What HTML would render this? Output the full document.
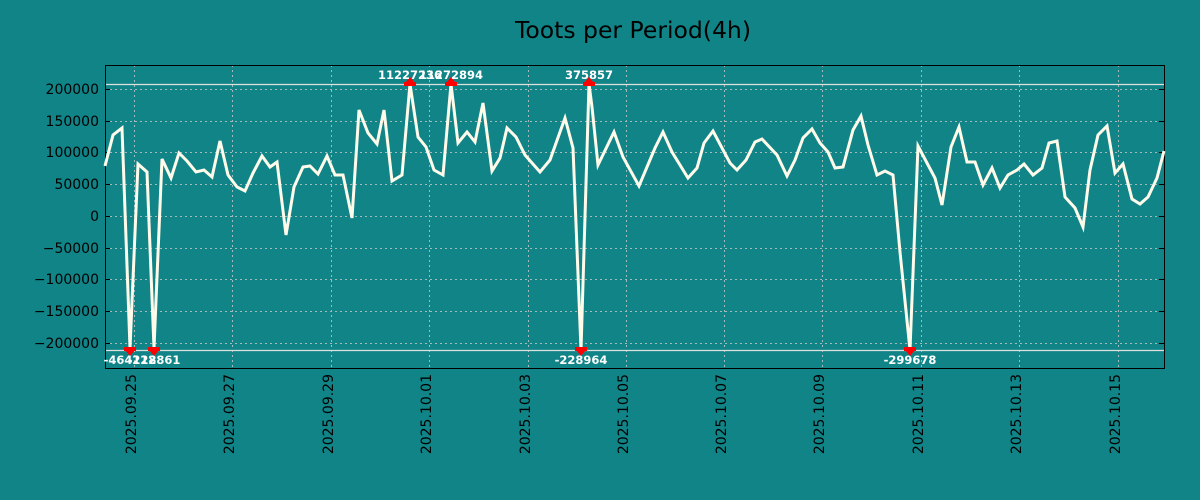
<!DOCTYPE html>
<html><head><meta charset="utf-8"><style>
body{margin:0;background:#118487;}
svg{display:block;font-family:"DejaVu Sans","Liberation Sans",sans-serif;}
</style></head><body>
<svg width="1200" height="500" xmlns="http://www.w3.org/2000/svg">
<rect width="1200" height="500" fill="#118487"/>
<text x="633" y="38" font-size="23.5" text-anchor="middle" fill="#000">Toots per Period(4h)</text>
<g stroke="#c8c8c8" stroke-width="1" stroke-dasharray="2,3" opacity="0.8">
<line x1="105" x2="1164" y1="89.5" y2="89.5"/><line x1="105" x2="1164" y1="121.5" y2="121.5"/>
<line x1="105" x2="1164" y1="152.5" y2="152.5"/><line x1="105" x2="1164" y1="184.5" y2="184.5"/>
<line x1="105" x2="1164" y1="216.5" y2="216.5"/><line x1="105" x2="1164" y1="248.5" y2="248.5"/>
<line x1="105" x2="1164" y1="279.5" y2="279.5"/><line x1="105" x2="1164" y1="311.5" y2="311.5"/>
<line x1="105" x2="1164" y1="343.5" y2="343.5"/>
<line y1="65" y2="368" x1="134.5" x2="134.5"/><line y1="65" y2="368" x1="232.5" x2="232.5"/>
<line y1="65" y2="368" x1="331.5" x2="331.5"/><line y1="65" y2="368" x1="429.5" x2="429.5"/>
<line y1="65" y2="368" x1="528.5" x2="528.5"/><line y1="65" y2="368" x1="626.5" x2="626.5"/>
<line y1="65" y2="368" x1="724.5" x2="724.5"/><line y1="65" y2="368" x1="822.5" x2="822.5"/>
<line y1="65" y2="368" x1="921.5" x2="921.5"/><line y1="65" y2="368" x1="1019.5" x2="1019.5"/>
<line y1="65" y2="368" x1="1118.5" x2="1118.5"/>
</g>
<line x1="105" x2="1164" y1="84.5" y2="84.5" stroke="#e0e0e0" stroke-width="1.2"/>
<line x1="105" x2="1164" y1="350.5" y2="350.5" stroke="#e0e0e0" stroke-width="1.2"/>
<rect x="105.5" y="65.5" width="1059" height="303" fill="none" stroke="#000" stroke-width="1"/>
<g stroke="#000" stroke-width="1">
<line x1="105" x2="110" y1="89.5" y2="89.5"/><line x1="105" x2="110" y1="121.5" y2="121.5"/><line x1="105" x2="110" y1="152.5" y2="152.5"/><line x1="105" x2="110" y1="184.5" y2="184.5"/><line x1="105" x2="110" y1="216.5" y2="216.5"/><line x1="105" x2="110" y1="248.5" y2="248.5"/><line x1="105" x2="110" y1="279.5" y2="279.5"/><line x1="105" x2="110" y1="311.5" y2="311.5"/><line x1="105" x2="110" y1="343.5" y2="343.5"/>
<line x1="1159" x2="1164" y1="89.5" y2="89.5"/><line x1="1159" x2="1164" y1="121.5" y2="121.5"/><line x1="1159" x2="1164" y1="152.5" y2="152.5"/><line x1="1159" x2="1164" y1="184.5" y2="184.5"/><line x1="1159" x2="1164" y1="216.5" y2="216.5"/><line x1="1159" x2="1164" y1="248.5" y2="248.5"/><line x1="1159" x2="1164" y1="279.5" y2="279.5"/><line x1="1159" x2="1164" y1="311.5" y2="311.5"/><line x1="1159" x2="1164" y1="343.5" y2="343.5"/>
</g>
<g font-size="14" fill="#000" text-anchor="end">
<text x="99" y="94">200000</text><text x="99" y="126">150000</text><text x="99" y="157">100000</text>
<text x="99" y="189">50000</text><text x="99" y="221">0</text><text x="99" y="253">−50000</text>
<text x="99" y="284">−100000</text><text x="99" y="316">−150000</text><text x="99" y="348">−200000</text>
</g>
<g font-size="14" fill="#000" text-anchor="end">
<text transform="translate(136,374) rotate(-90)">2025.09.25</text>
<text transform="translate(234,374) rotate(-90)">2025.09.27</text>
<text transform="translate(333,374) rotate(-90)">2025.09.29</text>
<text transform="translate(431,374) rotate(-90)">2025.10.01</text>
<text transform="translate(530,374) rotate(-90)">2025.10.03</text>
<text transform="translate(628,374) rotate(-90)">2025.10.05</text>
<text transform="translate(726,374) rotate(-90)">2025.10.07</text>
<text transform="translate(824,374) rotate(-90)">2025.10.09</text>
<text transform="translate(923,374) rotate(-90)">2025.10.11</text>
<text transform="translate(1021,374) rotate(-90)">2025.10.13</text>
<text transform="translate(1120,374) rotate(-90)">2025.10.15</text>
</g>
<polyline fill="none" stroke="#fffbea" stroke-width="3" stroke-linejoin="miter" points="105,166 113,135 122,128 130,348 138,164 147,172 154,348 162,159 171,178 179,153 187,161 196,172 204,170 212,177 220,141 228,175 237,187 245,191 253,173 262,156 270,167 277,162 286,235 294,187 303,167 310,166 318,174 327,156 335,175 343,175 352,218 359,110 368,133 377,144 384,110 392,181 402,175 410,84 418,137 426,147 434,170 443,175 451,84 458,143 467,132 475,142 483,103 492,171 500,158 507,128 516,137 525,155 540,172 550,160 565,118 573,148 581,350 589,84 592,107 598,165 614,132 623,157 639,186 655,148 663,132 672,152 688,178 697,168 704,143 713,131 730,163 737,170 746,160 755,142 762,139 777,155 787,176 795,160 803,138 812,129 820,143 828,152 835,168 843,167 853,130 861,116 868,145 877,175 885,171 893,175 900,252 910,350 918,146 927,163 935,178 942,205 951,147 959,127 967,162 975,162 983,185 992,168 1000,188 1008,175 1017,170 1024,164 1033,175 1042,168 1049,143 1057,141 1065,197 1075,208 1083,227 1090,170 1098,135 1107,126 1115,173 1123,164 1132,199 1140,204 1148,197 1157,178 1164,151"/>
<g fill="#ff0000">
<rect x="404" y="82" width="12" height="4"/><polygon points="410,77 405,83 415,83"/>
<rect x="445" y="82" width="12" height="4"/><polygon points="451,77 446,83 456,83"/>
<rect x="583" y="82" width="12" height="4"/><polygon points="589,77 584,83 594,83"/>
<rect x="124" y="347" width="12" height="4"/><polygon points="130,356 125,350 135,350"/>
<rect x="148" y="347" width="12" height="4"/><polygon points="154,356 149,350 159,350"/>
<rect x="575" y="347" width="12" height="4"/><polygon points="581,356 576,350 586,350"/>
<rect x="904" y="347" width="12" height="4"/><polygon points="910,356 905,350 915,350"/>
</g>
<g font-size="11.5" font-weight="bold" fill="#fff" text-anchor="middle" font-family="'DejaVu Sans','Liberation Sans',sans-serif">
<text x="410" y="79">11227236</text><text x="451" y="79">11272894</text>
<text x="589" y="79">375857</text>
<text x="130" y="364">-464112</text><text x="154" y="364">-228861</text>
<text x="581" y="364">-228964</text><text x="910" y="364">-299678</text>
</g>
</svg>
</body></html>
